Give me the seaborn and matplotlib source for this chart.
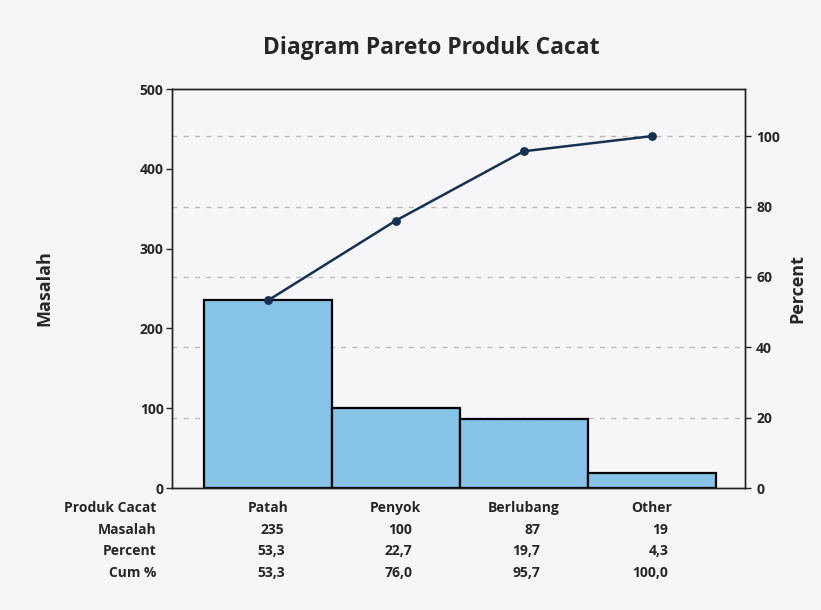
import numpy as np
import pandas as pd
import seaborn as sns
import matplotlib.pyplot as plt
from matplotlib.transforms import blended_transform_factory

categories = ["Patah", "Penyok", "Berlubang", "Other"]
masalah = [235, 100, 87, 19]
percent = [53.3, 22.7, 19.7, 4.3]
cum_pct = [53.3, 76.0, 95.7, 100.0]
row_labels = ["Produk Cacat", "Masalah", "Percent", "Cum %"]

BAR = "#86c3e6"
LINE = "#17304f"
BG = "#f6f6f8"

sns.set_style("white")
plt.rcParams["font.family"] = ["Open Sans", "DejaVu Sans"]
plt.rcParams["font.weight"] = "bold"

df = pd.DataFrame({"Produk": categories, "Masalah": masalah, "Cum": cum_pct})
total = sum(masalah)

fig = plt.figure(figsize=(8.21, 6.10), dpi=100, facecolor=BG)
ax = fig.add_axes([0.2095, 0.2, 0.698, 0.654])
ax.set_facecolor(BG)

sns.barplot(data=df, x="Produk", y="Masalah", color=BAR, width=1.0,
            edgecolor="black", linewidth=1.6, saturation=1, ax=ax, zorder=2)
ax.set_xlim(-0.75, 3.73)
ax.set_ylim(0, 500)
ax.set_yticks(range(0, 501, 100))
ax.set_xticks([])
ax.set_xlabel("")
ax.set_ylabel("Masalah", fontsize=13, fontweight="bold", labelpad=62)
ax.tick_params(axis="y", direction="out", length=4, width=1, labelsize=10, pad=2, left=True)

# dashed gridlines of the percent axis, kept behind the bars
for p in [20, 40, 60, 80, 100]:
    ax.axhline(p / 100 * total, color="#b5b5b5", linestyle=(0, (4, 5)), linewidth=0.9, zorder=0)

ax2 = ax.twinx()
sns.pointplot(data=df, x="Produk", y="Cum", color=LINE, markers="o", markersize=5,
              linewidth=1.8, ax=ax2)
ax2.set_xlim(-0.75, 3.73)
ax2.set_ylim(0, 500 / total * 100)
ax2.set_yticks(range(0, 101, 20))
ax2.set_xticks([])
ax2.set_xlabel("")
ax2.set_ylabel("Percent", fontsize=13, fontweight="bold", labelpad=6)
ax2.tick_params(axis="y", direction="out", length=4, width=1, labelsize=10, pad=4, right=True)

for a in (ax, ax2):
    for s in a.spines.values():
        s.set_color("#222222")
        s.set_linewidth(1.0)

fig.text(0.525, 0.921, "Diagram Pareto Produk Cacat", ha="center", va="center",
         fontsize=16.5, fontweight="bold")

# table under the chart
trans = blended_transform_factory(ax.transData, fig.transFigure)
row_y = [1 - 508 / 610, 1 - 530 / 610, 1 - 551 / 610, 1 - 573 / 610]
for lab, y in zip(row_labels, row_y):
    fig.text(0.191, y, lab, ha="right", va="center", fontsize=10, fontweight="bold")
for i, cat in enumerate(categories):
    ax.text(i, row_y[0], cat, transform=trans, ha="center", va="center", fontsize=10, fontweight="bold")
    vals = [str(masalah[i]), f"{percent[i]:.1f}".replace(".", ","), f"{cum_pct[i]:.1f}".replace(".", ",")]
    for v, y in zip(vals, row_y[1:]):
        ax.text(i + 0.13, y, v, transform=trans, ha="right", va="center", fontsize=10, fontweight="bold")

fig.savefig("out.png", dpi=100, facecolor=BG)
